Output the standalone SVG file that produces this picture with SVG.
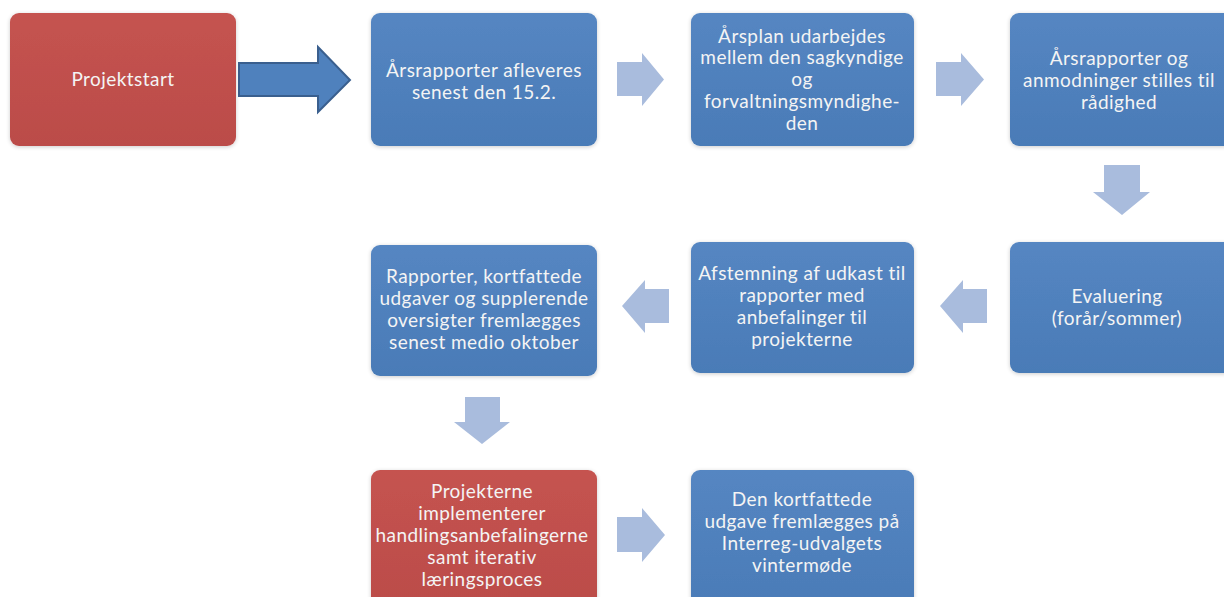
<svg xmlns="http://www.w3.org/2000/svg" width="1224" height="597" viewBox="0 0 1224 597">
<defs>
<linearGradient id="gb" x1="0" y1="0" x2="0" y2="1">
<stop offset="0" stop-color="#5586c2"/>
<stop offset="1" stop-color="#4a7bb7"/>
</linearGradient>
<linearGradient id="gr" x1="0" y1="0" x2="0" y2="1">
<stop offset="0" stop-color="#c55350"/>
<stop offset="1" stop-color="#bb4c49"/>
</linearGradient>
<filter id="sh" x="-10%" y="-10%" width="120%" height="120%">
<feGaussianBlur in="SourceAlpha" stdDeviation="2"/>
<feOffset dx="0" dy="1" result="b"/>
<feComponentTransfer><feFuncA type="linear" slope="0.2"/></feComponentTransfer>
<feMerge><feMergeNode/><feMergeNode in="SourceGraphic"/></feMerge>
</filter>
</defs>
<style>
.blue{fill:url(#gb);filter:url(#sh)}
.red{fill:url(#gr);filter:url(#sh)}
.t{font-family:Lato,"Liberation Sans",sans-serif;font-size:19px;letter-spacing:0.45px;fill:#f4f4f4;text-anchor:middle}
.la{fill:#a9bcdd}
.big{fill:#4f81bd;stroke:#3a5f8e;stroke-width:2}
</style>
<rect width="1224" height="597" fill="#ffffff"/>
<g id="connectors">
<path class="big" d="M239,63 H318 V47 L350,80 L318,112 V96 H239 Z"/>
<path class="la" d="M617,62 H642 V53 L664,79.5 L642,106 V96 H617 Z"/>
<path class="la" d="M936,62 H961 V53 L984,79.5 L961,106 V96 H936 Z"/>
<path class="la" d="M1104,165 H1140 V192 H1150 L1122,215 L1093,192 H1104 Z"/>
<path class="la" d="M987,289 V323 H963 V333 L940,306 L963,280 V289 Z"/>
<path class="la" d="M669,289 V323 H645 V333 L622,306 L645,280 V289 Z"/>
<path class="la" d="M465,397 H500 V422 H510 L482,444 L454,422 H465 Z"/>
<path class="la" d="M617,517 H642 V508 L665,535 L642,562 V552 H617 Z"/>
</g>
<g id="n1"><rect class="red" x="10" y="13" width="226" height="133" rx="9"/>
<text class="t" x="123" y="86">Projektstart</text></g>
<g id="n2"><rect class="blue" x="371" y="13" width="226" height="133" rx="9"/>
<text class="t" x="484" y="76.5">Årsrapporter afleveres</text>
<text class="t" x="484" y="98.5">senest den 15.2.</text></g>
<g id="n3"><rect class="blue" x="691" y="13" width="223" height="133" rx="9"/>
<text class="t" x="802" y="42.5">Årsplan udarbejdes</text>
<text class="t" x="802" y="64.3">mellem den sagkyndige</text>
<text class="t" x="802" y="86">og</text>
<text class="t" x="802" y="107.8">forvaltningsmyndighe-</text>
<text class="t" x="802" y="129.5">den</text></g>
<g id="n4"><rect class="blue" x="1010" y="13" width="224" height="133" rx="9"/>
<text class="t" x="1119" y="65">Årsrapporter og</text>
<text class="t" x="1119" y="87">anmodninger stilles til</text>
<text class="t" x="1119" y="108.5">rådighed</text></g>
<g id="n5"><rect class="blue" x="1010" y="242" width="224" height="131" rx="9"/>
<text class="t" x="1117" y="303">Evaluering</text>
<text class="t" x="1117" y="325">(forår/sommer)</text></g>
<g id="n6"><rect class="blue" x="691" y="242" width="223" height="131" rx="9"/>
<text class="t" x="802" y="279.5">Afstemning af udkast til</text>
<text class="t" x="802" y="301.5">rapporter med</text>
<text class="t" x="802" y="323.5">anbefalinger til</text>
<text class="t" x="802" y="345.5">projekterne</text></g>
<g id="n7"><rect class="blue" x="371" y="245" width="226" height="131" rx="9"/>
<text class="t" x="484" y="282.5">Rapporter, kortfattede</text>
<text class="t" x="484" y="304.5">udgaver og supplerende</text>
<text class="t" x="484" y="326.5">oversigter fremlægges</text>
<text class="t" x="484" y="348.5">senest medio oktober</text></g>
<g id="n8"><rect class="red" x="371" y="470" width="226" height="140" rx="9"/>
<text class="t" x="482" y="497.5">Projekterne</text>
<text class="t" x="482" y="519.5">implementerer</text>
<text class="t" x="482" y="541.5">handlingsanbefalingerne</text>
<text class="t" x="482" y="563.5">samt iterativ</text>
<text class="t" x="482" y="585.5">læringsproces</text></g>
<g id="n9"><rect class="blue" x="691" y="470" width="223" height="140" rx="9"/>
<text class="t" x="802" y="505.5">Den kortfattede</text>
<text class="t" x="802" y="527.5">udgave fremlægges på</text>
<text class="t" x="802" y="549.5">Interreg-udvalgets</text>
<text class="t" x="802" y="571.5">vintermøde</text></g>
</svg>
